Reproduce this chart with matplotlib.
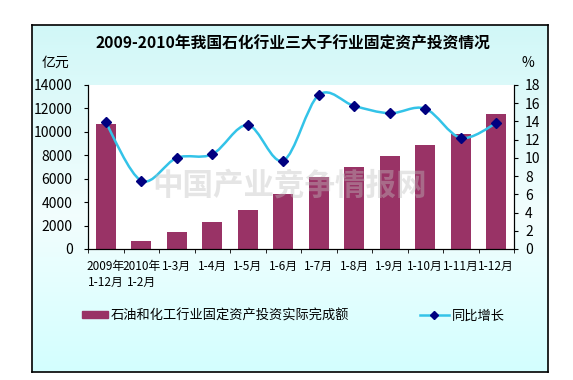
import matplotlib.pyplot as plt
from matplotlib.patches import Patch, PathPatch
from matplotlib.lines import Line2D
from matplotlib.path import Path
import numpy as np

plt.rcParams['font.family'] = ['Noto Sans CJK SC', 'DejaVu Sans']

# data
categories = ['2009年\n1-12月', '2010年\n1-2月', '1-3月', '1-4月', '1-5月', '1-6月',
              '1-7月', '1-8月', '1-9月', '1-10月', '1-11月', '1-12月']
investment = [10680, 650, 1480, 2330, 3350, 4720, 6110, 6960, 7950, 8890, 9830, 11530]
growth = [13.9, 7.5, 10.0, 10.4, 13.6, 9.7, 16.9, 15.7, 14.9, 15.4, 12.2, 13.8]

bar_color = '#993366'
line_color = '#33c3e8'
marker_color = '#000080'


def smooth_path(xs, ys):
	# bezier through every point, control points from neighbours (excel style)
	pts = np.column_stack([xs, ys])
	verts = [pts[0]]
	codes = [Path.MOVETO]
	n = len(pts)
	for i in range(n - 1):
		p0 = pts[i - 1] if i > 0 else pts[i]
		p1 = pts[i]
		p2 = pts[i + 1]
		p3 = pts[i + 2] if i + 2 < n else pts[i + 1]
		c1 = p1 + (p2 - p0) / 6.0
		c2 = p2 - (p3 - p1) / 6.0
		verts.extend([c1, c2, p2])
		codes.extend([Path.CURVE4] * 3)
	return Path(verts, codes)


fig = plt.figure(figsize=(5.73, 3.80), dpi=100)

# framed gradient background
bg = fig.add_axes([32 / 573, 8 / 380, 516 / 573, 347 / 380])
t = np.linspace(0, 1, 200)[:, None]
top = np.array([0.82, 0.97, 0.97])
mid = np.array([0.95, 0.995, 0.995])
bot = np.array([0.80, 1.0, 1.0])
w_mid = np.clip(1 - np.abs(t - 0.55) / 0.55, 0, 1)
img = np.where(t < 0.55, top * (1 - w_mid) + mid * w_mid, bot * (1 - w_mid) + mid * w_mid)
bg.imshow(img[:, None, :], aspect='auto', extent=[0, 1, 0, 1])
bg.set_xticks([])
bg.set_yticks([])
for s in bg.spines.values():
	s.set_linewidth(1.2)
	s.set_color('black')

ax = fig.add_axes([88 / 573, 131 / 380, 426 / 573, 164 / 380])
ax.set_facecolor('white')
x = np.arange(len(categories))
ax.bar(x, investment, width=0.56, color=bar_color, zorder=2)
ax.set_xlim(-0.5, len(categories) - 0.5)
ax.set_ylim(0, 14000)
ax.set_yticks(np.arange(0, 14001, 2000))
ax.tick_params(axis='y', direction='out', length=3, pad=8, labelsize=10)
ax.set_xticks(x)
ax.set_xticklabels(categories, fontsize=8.5, linespacing=1.3)
ax.tick_params(axis='x', length=0, pad=8)
ax.set_xticks(np.arange(-0.5, len(categories)), minor=True)
ax.tick_params(axis='x', which='minor', direction='out', length=3)
ax.spines['top'].set_visible(False)

ax2 = ax.twinx()
ax2.set_ylim(0, 18)
ax2.set_yticks(np.arange(0, 19, 2))
ax2.tick_params(axis='y', direction='out', length=3, pad=5, labelsize=10)
ax2.spines['top'].set_visible(False)
ax2.add_patch(PathPatch(smooth_path(x, growth), facecolor='none', edgecolor=line_color, lw=1.8, zorder=3))
ax2.plot(x, growth, ls='none', marker='D', ms=5, color=marker_color, zorder=4)

fig.text(0.512, 1 - 43 / 380, '2009-2010年我国石化行业三大子行业固定资产投资情况', ha='center', va='center',
		 fontsize=11.3, fontweight='bold')
fig.text(42 / 573, 1 - 63 / 380, '亿元', fontsize=10, va='center')
fig.text(521 / 573, 1 - 63 / 380, '%', fontsize=10, va='center')
fig.text(0.505, 1 - 185 / 380, '中国产业竞争情报网', ha='center', va='center', fontsize=22,
		 fontweight='bold', color='#c0c0c0', alpha=0.4, zorder=10)

fig.legend(handles=[Patch(color=bar_color)], labels=['石油和化工行业固定资产投资实际完成额'],
		   loc='center left', bbox_to_anchor=(70 / 573, 1 - 316 / 380), frameon=False,
		   fontsize=9.5, handlelength=2.0, handleheight=0.45, handletextpad=0.2)
fig.legend(handles=[Line2D([], [], color=line_color, lw=1.8, marker='D', ms=4,
						   markerfacecolor=marker_color, markeredgecolor=marker_color)],
		   labels=['同比增长'], loc='center left', bbox_to_anchor=(408 / 573, 1 - 316 / 380),
		   frameon=False, fontsize=9.5, handlelength=2.2, handletextpad=0.2)

fig.savefig('out.png', dpi=100)
